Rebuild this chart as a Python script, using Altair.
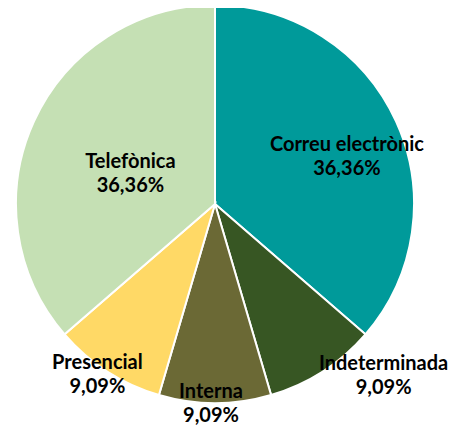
import altair as alt
import pandas as pd

categories = ["Correu electrònic", "Indeterminada", "Interna", "Presencial", "Telefònica"]
values = [36.36, 9.09, 9.09, 9.09, 36.36]
colors = ["#009A9A", "#375623", "#6B6935", "#FFD966", "#C5E0B4"]

df = pd.DataFrame({
    "cat": categories,
    "value": values,
    "ord": list(range(len(categories))),
    "label": [f"{c}\n{v:.2f}".replace(".", ",") + "%" for c, v in zip(categories, values)],
})

CX, CY, R = 207, 196, 199

base = alt.Chart(df).encode(
    theta=alt.Theta("value:Q", stack=True),
    order=alt.Order("ord:Q"),
    x=alt.value(CX),
    y=alt.value(CY),
)

pie = base.mark_arc(radius=R, stroke="white", strokeWidth=2).encode(
    color=alt.Color("cat:N", scale=alt.Scale(domain=categories, range=colors), legend=None)
)

# label placement (radius, dx, dy) per category
placement = {
    "Correu electrònic": (145, 0, 1),
    "Indeterminada": (R, 61, -7),
    "Interna": (R, -4, -11),
    "Presencial": (R, -10, -8),
    "Telefònica": (93, 0, -3),
}

layers = [pie]
for c in categories:
    r, dx, dy = placement[c]
    layers.append(
        base.mark_text(
            radius=r, dx=dx, dy=dy, lineBreak="\n", font="Lato", fontSize=20,
            fontWeight="bold", color="black", align="center", baseline="middle",
            lineHeight=24,
        ).encode(
            text=alt.condition(f"datum.cat == '{c}'", alt.Text("label:N"), alt.value(""))
        )
    )

chart = alt.layer(*layers).properties(
    width=440, height=420, padding=0, autosize=alt.AutoSizeParams(type="none")
).configure_view(stroke=None)

chart.save("out.html", embed_options={"renderer": "svg", "actions": False})
